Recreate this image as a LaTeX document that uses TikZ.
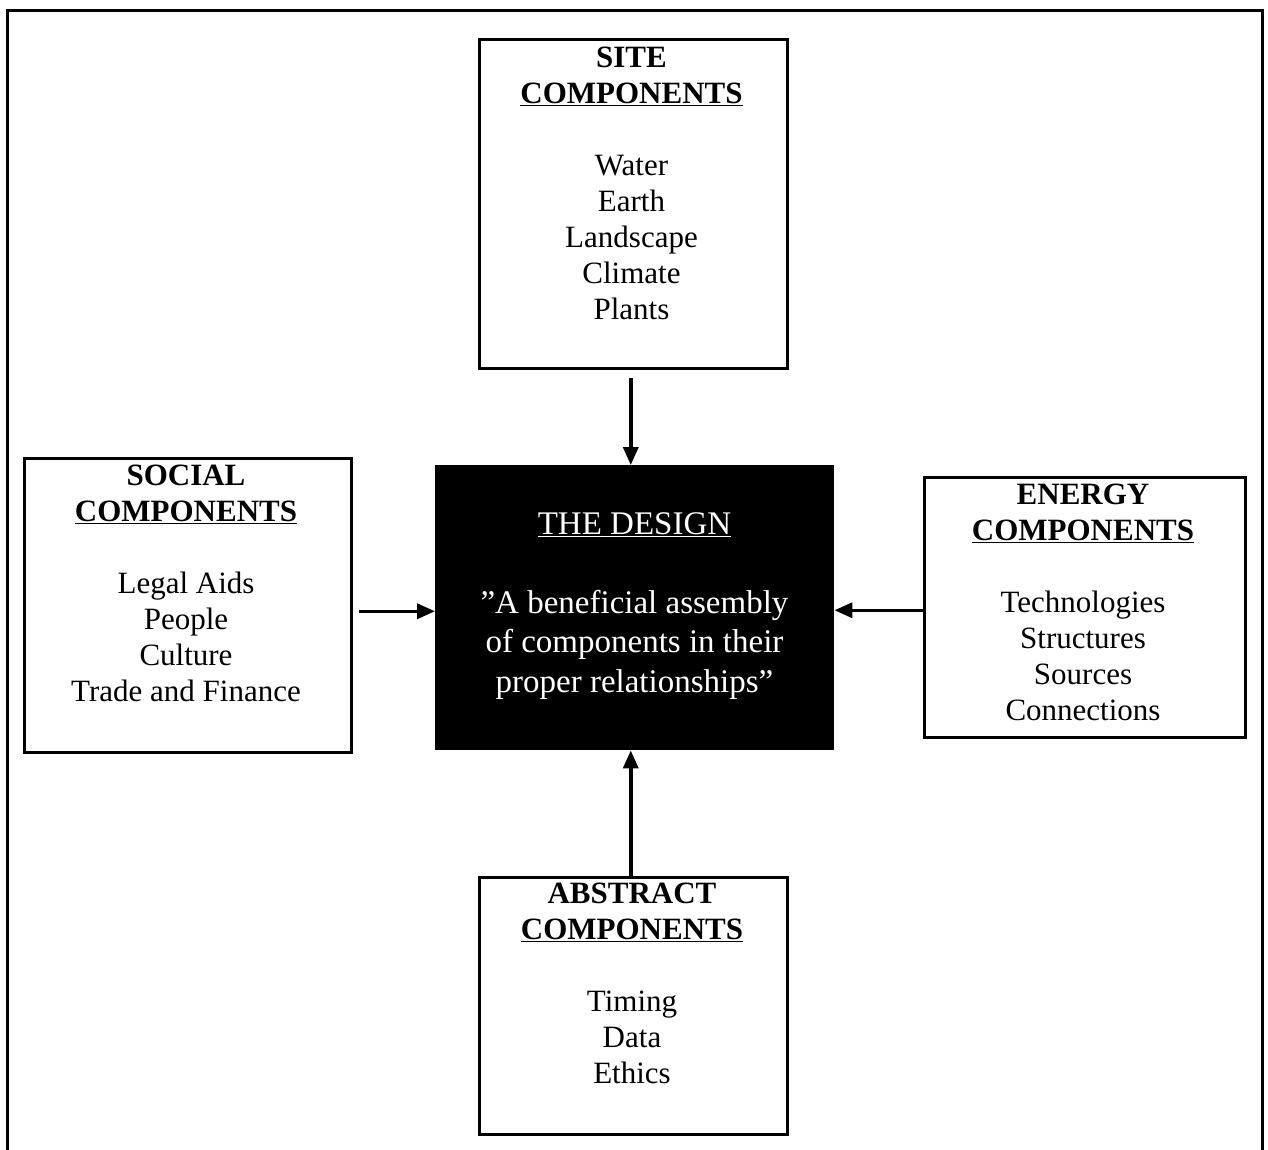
\documentclass[tikz,border=0pt]{standalone}
\usepackage{fontspec}
\setmainfont{Liberation Serif}
\usetikzlibrary{arrows.meta}
\begin{document}
\begin{tikzpicture}[x=1pt,y=-1pt,
  box/.style={draw=black, line width=3.5pt, anchor=north west, inner sep=0pt},
  dbox/.style={fill=black, anchor=north west, inner sep=0pt},
  txt/.style={anchor=north, inner sep=0pt, align=center, font=\fontsize{31}{36}\selectfont},
  dtxt/.style={anchor=north, inner sep=0pt, align=center, text=white, font=\fontsize{33}{39.5}\selectfont},
  arr/.style={line width=3.5pt, -{Triangle[length=18pt,width=15pt]}},
  frame/.style={line width=3pt}]
\useasboundingbox (0,0) rectangle (1268,1149);
% outer frame (open at the bottom)
\coordinate (fbl) at (7,1152);
\coordinate (ftl) at (7,10);
\coordinate (ftr) at (1262,10);
\coordinate (fbr) at (1262,1152);
\draw[frame] (fbl) -- (ftl) -- (ftr) -- (fbr);
% boxes
\node[box, minimum width=308pt, minimum height=329pt] (site) at (477.5,37.5) {};
\node[box, minimum width=327pt, minimum height=294pt] (social) at (22.5,456.5) {};
\node[dbox, minimum width=399pt, minimum height=285pt] (design) at (435,465) {};
\node[box, minimum width=321pt, minimum height=260pt] (energy) at (922.5,475.5) {};
\node[box, minimum width=308pt, minimum height=257pt] (abstract) at (477.5,875.5) {};
% texts
\node[txt] (sitetxt) at (631.5,47) {\textbf{SITE}\\\textbf{\underline{COMPONENTS}}\\[36pt]Water\\Earth\\Landscape\\Climate\\Plants};
\node[txt] (socialtxt) at (186,465) {\textbf{SOCIAL}\\\textbf{\underline{COMPONENTS}}\\[36pt]Legal Aids\\People\\Culture\\Trade and Finance};
\node[txt] (energytxt) at (1083,484) {\textbf{ENERGY}\\\textbf{\underline{COMPONENTS}}\\[36pt]Technologies\\Structures\\Sources\\Connections};
\node[txt] (abstracttxt) at (632,883) {\textbf{ABSTRACT}\\\textbf{\underline{COMPONENTS}}\\[36pt]Timing\\Data\\Ethics};
\node[dtxt] (designtxt) at (634.5,512) {\underline{THE DESIGN}\\[39.5pt]"A beneficial assembly\\of components in their\\proper relationships"};
% arrows
\draw[arr, shorten <=8pt] ([xshift=-2.5pt]site.south) -- ([xshift=-2.5pt]site.south |- design.north);
\draw[arr, shorten <=6pt] ([yshift=-6pt]social.east) -- ([yshift=-6pt]social.east -| design.west);
\draw[arr] ([yshift=-3pt]energy.west) -- ([yshift=-3pt]energy.west -| design.east);
\draw[arr] ([xshift=-2.5pt]abstract.north) -- ([xshift=-2.5pt]abstract.north |- design.south);
\end{tikzpicture}
\end{document}
